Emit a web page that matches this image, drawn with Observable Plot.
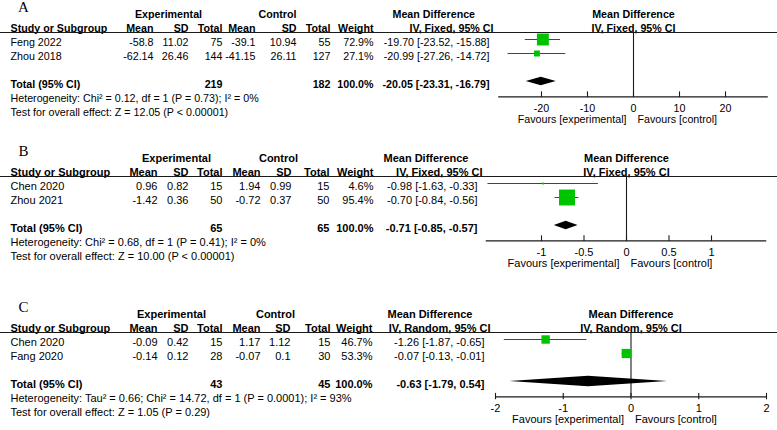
<!DOCTYPE html>
<html><head><meta charset="utf-8">
<script src="https://cdn.jsdelivr.net/npm/d3@7"></script>
<script src="https://cdn.jsdelivr.net/npm/@observablehq/plot@0.6"></script>
<style>
html,body{margin:0;padding:0;background:#fff;}
#fig{position:relative;width:777px;height:430px;overflow:hidden;background:#fff;}
#fig svg{position:absolute;left:0;}
</style></head><body><div id="fig"></div>
<script>
// ---------- Panel A ----------
const studiesA = ["Feng 2022", "Zhou 2018"];
const expMeanA = [-58.8, -62.14];
const expSdA = [11.02, 26.46];
const expNA = [75, 144];
const ctlMeanA = [-39.1, -41.15];
const ctlSdA = [10.94, 26.11];
const ctlNA = [55, 127];
const weightA = [72.9, 27.1];
const mdA = [-19.70, -20.99];
const loA = [-23.52, -27.26];
const hiA = [-15.88, -14.72];
const totalNA = [219, 182];
const totalMdA = [-20.05, -23.31, -16.79];
const hetA = "Heterogeneity: Chi² = 0.12, df = 1 (P = 0.73); I² = 0%";
const testA = "Test for overall effect: Z = 12.05 (P < 0.00001)";
const ticksA = [-20, -10, 0, 10, 20];
const tickLabelsA = ["-20", "-10", "0", "10", "20"];

// ---------- Panel B ----------
const studiesB = ["Chen 2020", "Zhou 2021"];
const expMeanB = [0.96, -1.42];
const expSdB = [0.82, 0.36];
const expNB = [15, 50];
const ctlMeanB = [1.94, -0.72];
const ctlSdB = [0.99, 0.37];
const ctlNB = [15, 50];
const weightB = [4.6, 95.4];
const mdB = [-0.98, -0.70];
const loB = [-1.63, -0.84];
const hiB = [-0.33, -0.56];
const totalNB = [65, 65];
const totalMdB = [-0.71, -0.85, -0.57];
const hetB = "Heterogeneity: Chi² = 0.68, df = 1 (P = 0.41); I² = 0%";
const testB = "Test for overall effect: Z = 10.00 (P < 0.00001)";
const ticksB = [-1, -0.5, 0, 0.5, 1];
const tickLabelsB = ["-1", "-0.5", "0", "0.5", "1"];

// ---------- Panel C ----------
const studiesC = ["Chen 2020", "Fang 2020"];
const expMeanC = [-0.09, -0.14];
const expSdC = [0.42, 0.12];
const expNC = [15, 28];
const ctlMeanC = [1.17, -0.07];
const ctlSdC = [1.12, 0.1];
const ctlNC = [15, 30];
const weightC = [46.7, 53.3];
const mdC = [-1.26, -0.07];
const loC = [-1.87, -0.13];
const hiC = [-0.65, -0.01];
const totalNC = [43, 45];
const totalMdC = [-0.63, -1.79, 0.54];
const hetC = "Heterogeneity: Tau² = 0.66; Chi² = 14.72, df = 1 (P = 0.0001); I² = 93%";
const testC = "Test for overall effect: Z = 1.05 (P = 0.29)";
const ticksC = [-2, -1, 0, 1, 2];
const tickLabelsC = ["-2", "-1", "0", "1", "2"];

const panelLetters = ["A", "B", "C"];
const methodLabels = ["IV, Fixed, 95% CI", "IV, Fixed, 95% CI", "IV, Random, 95% CI"];

// ---------- layout (pixels) ----------
const layouts = [
  {top: 0, font: 10.7, xDomain: [-29.3, 29.3], xRange: [498.2, 767.8], rMax: 8.4, tickUp: 0.36, tickDown: 0.05, half: 0.3,
   col: {name: 10, eMean: 153, eSd: 188, eN: 222, cMean: 255, cSd: 296, cN: 330, w: 373, md: 489,
         expHdr: 168, ctlHdr: 277, mdHdr: 392, ivHdr: 493}},
  {top: 144, font: 11, xDomain: [-1.65, 1.65], xRange: [485.75, 766.25], rMax: 9.3, tickUp: 0.36, tickDown: 0.05, half: 0.3,
   col: {name: 10, eMean: 157, eSd: 188, eN: 222, cMean: 260, cSd: 291, cN: 329, w: 373, md: 477,
         expHdr: 176, ctlHdr: 278, mdHdr: 383, ivHdr: 482}},
  {top: 300, font: 11, xDomain: [-2, 2], xRange: [495, 766], rMax: 8.1, tickUp: 0.25, tickDown: 0.2, half: 0.38,
   col: {name: 10, eMean: 157, eSd: 188, eN: 222, cMean: 260, cSd: 290, cN: 330, w: 372, md: 484,
         expHdr: 171, ctlHdr: 275, mdHdr: 387, ivHdr: 490}}
];

const panelsData = [
  {studies: studiesA, expMean: expMeanA, expSd: expSdA, expN: expNA, ctlMean: ctlMeanA, ctlSd: ctlSdA, ctlN: ctlNA,
   weight: weightA, md: mdA, lo: loA, hi: hiA, totalN: totalNA, totalMd: totalMdA, het: hetA, test: testA,
   ticks: ticksA, tickLabels: tickLabelsA},
  {studies: studiesB, expMean: expMeanB, expSd: expSdB, expN: expNB, ctlMean: ctlMeanB, ctlSd: ctlSdB, ctlN: ctlNB,
   weight: weightB, md: mdB, lo: loB, hi: hiB, totalN: totalNB, totalMd: totalMdB, het: hetB, test: testB,
   ticks: ticksB, tickLabels: tickLabelsB},
  {studies: studiesC, expMean: expMeanC, expSd: expSdC, expN: expNC, ctlMean: ctlMeanC, ctlSd: ctlSdC, ctlN: ctlNC,
   weight: weightC, md: mdC, lo: loC, hi: hiC, totalN: totalNC, totalMd: totalMdC, het: hetC, test: testC,
   ticks: ticksC, tickLabels: tickLabelsC}
];

const GREEN = "#00c400";
const FONT = "'Liberation Sans', Arial, Helvetica, sans-serif";
const fmtCI = (m, l, h) => `${m.toFixed(2)} [${l.toFixed(2)}, ${h.toFixed(2)}]`;

function buildPanel(p, L, letter, method) {
  const c = L.col;
  const HDR1 = -1, HDR2 = 0, LINE = 0.5, TOTAL = 4, HET = 5, TEST = 6, AXIS = 5.1;
  const rows = p.studies.map((s, i) => ({
    row: i + 1, name: s,
    eMean: String(p.expMean[i]), eSd: String(p.expSd[i]), eN: String(p.expN[i]),
    cMean: String(p.ctlMean[i]), cSd: String(p.ctlSd[i]), cN: String(p.ctlN[i]),
    w: p.weight[i], wTxt: p.weight[i].toFixed(1) + "%",
    md: p.md[i], lo: p.lo[i], hi: p.hi[i], mdTxt: fmtCI(p.md[i], p.lo[i], p.hi[i])
  }));
  const [tm, tl, th] = p.totalMd;
  const diamond = [
    {x: tl, y1: TOTAL, y2: TOTAL},
    {x: tm, y1: TOTAL - L.half, y2: TOTAL + L.half},
    {x: th, y1: TOTAL, y2: TOTAL}
  ];
  const col = (data, text, dx, anchor, weight = "normal") =>
    Plot.text(data, {y: "row", text, frameAnchor: "left", dx, dy: 3, textAnchor: anchor, fontWeight: weight, fill: "#000"});
  const lab = (t, row, dx, anchor, weight = "normal") =>
    col([{t, row}], "t", dx, anchor, weight);

  const marks = [
    Plot.text([{t: letter, row: -1.55}], {y: "row", text: "t", frameAnchor: "left", dx: 23, dy: 3,
      textAnchor: "middle", fontFamily: "'Liberation Serif', 'Times New Roman', serif", fontSize: 15, fill: "#000"}),
    lab("Experimental", HDR1, c.expHdr, "middle", "bold"),
    lab("Control", HDR1, c.ctlHdr, "middle", "bold"),
    lab("Mean Difference", HDR1, c.mdHdr, "start", "bold"),
    lab("Study or Subgroup", HDR2, c.name, "start", "bold"),
    lab("Mean", HDR2, c.eMean, "end", "bold"),
    lab("SD", HDR2, c.eSd, "end", "bold"),
    lab("Total", HDR2, c.eN, "end", "bold"),
    lab("Mean", HDR2, c.cMean, "end", "bold"),
    lab("SD", HDR2, c.cSd, "end", "bold"),
    lab("Total", HDR2, c.cN, "end", "bold"),
    lab("Weight", HDR2, c.w, "end", "bold"),
    lab(method, HDR2, c.ivHdr, "end", "bold"),
    Plot.text([{x: 0, row: HDR1, t: "Mean Difference"}, {x: 0, row: HDR2, t: method}],
      {x: "x", y: "row", text: "t", dy: 3, fontWeight: "bold", fill: "#000"}),
    Plot.ruleY([LINE], {stroke: "#1a1a1a", strokeWidth: 1.2}),
    col(rows, "name", c.name, "start"),
    col(rows, "eMean", c.eMean, "end"),
    col(rows, "eSd", c.eSd, "end"),
    col(rows, "eN", c.eN, "end"),
    col(rows, "cMean", c.cMean, "end"),
    col(rows, "cSd", c.cSd, "end"),
    col(rows, "cN", c.cN, "end"),
    col(rows, "wTxt", c.w, "end"),
    col(rows, "mdTxt", c.md, "end"),
    lab("Total (95% CI)", TOTAL, c.name, "start", "bold"),
    lab(String(p.totalN[0]), TOTAL, c.eN, "end", "bold"),
    lab(String(p.totalN[1]), TOTAL, c.cN, "end", "bold"),
    lab("100.0%", TOTAL, c.w, "end", "bold"),
    lab(fmtCI(tm, tl, th), TOTAL, c.md, "end", "bold"),
    lab(p.het, HET, c.name, "start"),
    lab(p.test, TEST, c.name, "start"),
    Plot.ruleX([0], {y1: LINE, y2: AXIS, stroke: "#1a1a1a", strokeWidth: 1.1}),
    Plot.ruleY([AXIS], {x1: L.xDomain[0], x2: L.xDomain[1], stroke: "#1a1a1a", strokeWidth: 1.1}),
    Plot.ruleX(p.ticks, {x: d => d, y1: AXIS - L.tickUp, y2: AXIS + L.tickDown, stroke: "#1a1a1a", strokeWidth: 1.1}),
    Plot.text(p.ticks, {x: d => d, y: AXIS, text: (d, i) => p.tickLabels[i], dy: 12, fill: "#000"}),
    Plot.text([{x: 0, t: "Favours [experimental]"}], {x: "x", y: AXIS, text: "t", dy: 23, dx: -7, textAnchor: "end", fill: "#000"}),
    Plot.text([{x: 0, t: "Favours [control]"}], {x: "x", y: AXIS, text: "t", dy: 23, dx: 4, textAnchor: "start", fill: "#000"}),
    Plot.ruleY(rows, {y: "row", x1: "lo", x2: "hi", stroke: "#444", strokeWidth: 1}),
    Plot.dot(rows, {x: "md", y: "row", r: "w", symbol: "square", fill: GREEN, stroke: "none"}),
    Plot.areaY(diamond, {x: "x", y1: "y1", y2: "y2", fill: "#000", curve: "linear"})
  ];

  const svg = Plot.plot({
    width: 777, height: 130,
    marginTop: 0, marginBottom: 0, marginLeft: 0, marginRight: 0,
    x: {domain: L.xDomain, range: L.xRange, axis: null},
    y: {domain: [-25 / 14, 105 / 14], range: [0, 130], axis: null},
    r: {type: "pow", exponent: 0.7, domain: [0, 100], range: [0, L.rMax]},
    style: {fontFamily: FONT, fontSize: L.font + "px", color: "#000", background: "transparent", overflow: "visible"},
    marks
  });
  svg.style.top = L.top + "px";
  return svg;
}

const fig = document.getElementById("fig");
panelsData.forEach((p, i) => fig.appendChild(buildPanel(p, layouts[i], panelLetters[i], methodLabels[i])));
</script>
</body></html>
